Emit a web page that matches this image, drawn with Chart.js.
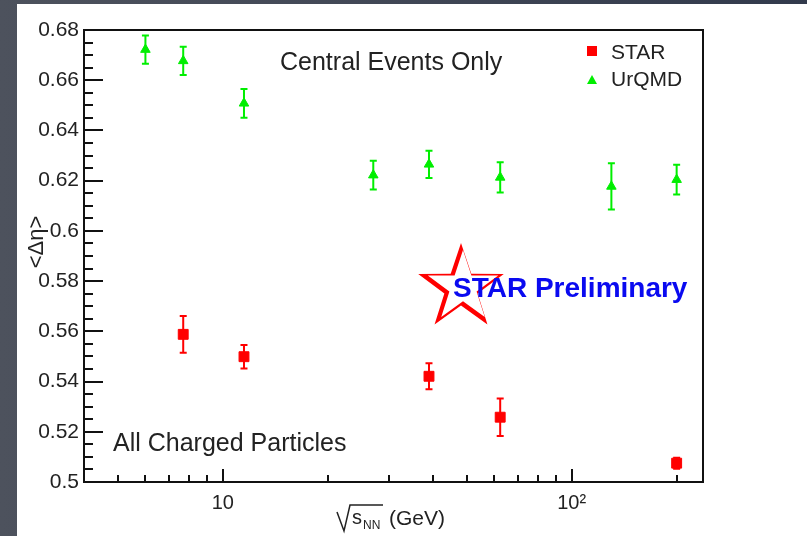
<!DOCTYPE html>
<html>
<head>
<meta charset="utf-8">
<script src="https://cdn.jsdelivr.net/npm/chart.js@4.4.1/dist/chart.umd.min.js"></script>
<style>
  html, body { margin: 0; padding: 0; }
  body {
    width: 807px; height: 536px; overflow: hidden; position: relative;
    background: linear-gradient(90deg, #4d525d 0%, #434957 40%, #323a4c 100%);
  }
  #panel { position: absolute; left: 17px; top: 4px; width: 790px; height: 532px; background: #fff; }
  #wrap { position: absolute; left: 0; top: 0; width: 807px; height: 536px; }
</style>
</head>
<body>
<div id="panel"></div>
<div id="wrap"><canvas id="bf-chart" width="807" height="536"></canvas></div>
<script>
// balance function width vs collision energy, central events
const starEnergies = [7.7, 11.5, 39, 62.4, 200];
const starWidths   = [0.5588, 0.5499, 0.5421, 0.5258, 0.5075];
const starErrors   = [0.0073, 0.0047, 0.0052, 0.0075, 0.0022];

const urqmdEnergies = [6, 7.7, 11.5, 27, 39, 62.4, 130, 200];
const urqmdWidths   = [0.6722, 0.6677, 0.6508, 0.6222, 0.6265, 0.6213, 0.6177, 0.6204];
const urqmdErrors   = [0.0056, 0.0056, 0.0057, 0.0057, 0.0054, 0.0060, 0.0092, 0.0059];

const xTicks = [5, 6, 7, 8, 9, 10, 20, 30, 40, 50, 60, 70, 80, 90, 100, 200];
const xTickLabels = { 10: '10', 100: '10\u00B2' };
const yMajorTicks = [0.5, 0.52, 0.54, 0.56, 0.58, 0.6, 0.62, 0.64, 0.66, 0.68];
const yMinorStep = 0.005;

const RED = '#ff0000';
const GREEN = '#00ee00';
const INK = '#222';
const FONT = '"Liberation Sans", Arial, Helvetica, sans-serif';

const isMajorY = v => yMajorTicks.some(t => Math.abs(t - v) < 1e-6);

function toPoints(xs, ys) {
    return xs.map((x, i) => ({ x: x, y: ys[i] }));
}

// vertical error bars with small caps, drawn under the markers
const errorBars = {
    id: 'errorBars',
    beforeDatasetsDraw(chart) {
        const { ctx } = chart;
        const xs = chart.scales.x, ys = chart.scales.y;
        chart.data.datasets.forEach(ds => {
            ctx.save();
            ctx.strokeStyle = ds.borderColor;
            ctx.lineWidth = 2;
            ds.data.forEach((p, i) => {
                const px = xs.getPixelForValue(p.x);
                const yHi = ys.getPixelForValue(p.y + ds.errors[i]);
                const yLo = ys.getPixelForValue(p.y - ds.errors[i]);
                ctx.beginPath();
                ctx.moveTo(px, yHi); ctx.lineTo(px, yLo);
                ctx.moveTo(px - 3.5, yHi); ctx.lineTo(px + 3.5, yHi);
                ctx.moveTo(px - 3.5, yLo); ctx.lineTo(px + 3.5, yLo);
                ctx.stroke();
            });
            ctx.restore();
        });
    }
};

function starPath(ctx, cx, cy, rOut, rIn) {
    ctx.beginPath();
    for (let k = 0; k < 10; k++) {
        const r = k % 2 === 0 ? rOut : rIn;
        const a = -Math.PI / 2 + k * Math.PI / 5;
        const px = cx + r * Math.cos(a), py = cy + r * Math.sin(a);
        if (k === 0) ctx.moveTo(px, py); else ctx.lineTo(px, py);
    }
    ctx.closePath();
}

// frame, inward ROOT-style ticks, legend and annotations
const decorations = {
    id: 'decorations',
    afterDraw(chart) {
        const { ctx, chartArea: { left, right, top, bottom } } = chart;
        const xs = chart.scales.x, ys = chart.scales.y;
        ctx.save();
        ctx.strokeStyle = '#111';
        ctx.lineWidth = 2;
        ctx.beginPath();
        ys.ticks.forEach(t => {
            const py = Math.round(ys.getPixelForValue(t.value));
            const len = isMajorY(t.value) ? 19 : 9;
            ctx.moveTo(left, py); ctx.lineTo(left + len, py);
        });
        xs.ticks.forEach(t => {
            const px = Math.round(xs.getPixelForValue(t.value));
            const len = xTickLabels[t.value] ? 13 : 7;
            ctx.moveTo(px, bottom); ctx.lineTo(px, bottom - len);
        });
        ctx.stroke();
        ctx.strokeRect(left, top, right - left, bottom - top);

        // legend
        ctx.fillStyle = RED;
        ctx.fillRect(587, 46, 10, 10);
        ctx.fillStyle = GREEN;
        ctx.beginPath();
        ctx.moveTo(592, 75); ctx.lineTo(597, 84); ctx.lineTo(587, 84); ctx.closePath();
        ctx.fill();
        ctx.fillStyle = INK;
        ctx.font = '21px ' + FONT;
        ctx.textAlign = 'left';
        ctx.textBaseline = 'alphabetic';
        ctx.fillText(chart.data.datasets[0].label, 611, 59);
        ctx.fillText(chart.data.datasets[1].label, 611, 86);

        ctx.font = '25px ' + FONT;
        ctx.fillText('Central Events Only', 280, 70);
        ctx.fillText('All Charged Particles', 113, 451);

        // x axis title: sqrt(s_NN) (GeV)
        ctx.strokeStyle = INK;
        ctx.lineWidth = 1.5;
        ctx.beginPath();
        ctx.moveTo(337, 512); ctx.lineTo(344, 531); ctx.lineTo(350, 505); ctx.lineTo(383, 505);
        ctx.stroke();
        ctx.font = '20px ' + FONT;
        ctx.fillText('s', 352, 524);
        ctx.font = '12px ' + FONT;
        ctx.fillText('NN', 363, 529);
        ctx.font = '21px ' + FONT;
        ctx.fillText('(GeV)', 389, 525);

        // y axis title
        ctx.save();
        ctx.translate(37, 242);
        ctx.rotate(-Math.PI / 2);
        ctx.textAlign = 'center';
        ctx.textBaseline = 'middle';
        ctx.font = '22px ' + FONT;
        ctx.fillText('<\u0394\u03B7>', 0, 0);
        ctx.restore();

        // STAR Preliminary stamp
        starPath(ctx, 461, 288, 45, 17.5);
        ctx.fillStyle = RED;
        ctx.fill();
        starPath(ctx, 463, 287, 37, 14.3);
        ctx.fillStyle = '#fff';
        ctx.fill();
        ctx.fillStyle = '#0a0af0';
        ctx.font = 'bold 28px ' + FONT;
        ctx.fillText('STAR Preliminary', 453, 297);
        ctx.restore();
    }
};

new Chart(document.getElementById('bf-chart'), {
    type: 'scatter',
    data: {
        datasets: [{
            label: 'STAR',
            data: toPoints(starEnergies, starWidths),
            errors: starErrors,
            pointStyle: 'rect',
            pointRadius: 7,
            borderWidth: 1,
            backgroundColor: RED,
            borderColor: RED
        }, {
            label: 'UrQMD',
            data: toPoints(urqmdEnergies, urqmdWidths),
            errors: urqmdErrors,
            pointStyle: 'triangle',
            pointRadius: 5.5,
            borderWidth: 1,
            backgroundColor: GREEN,
            borderColor: GREEN
        }]
    },
    options: {
        responsive: false,
        devicePixelRatio: 1,
        animation: false,
        layout: { padding: { left: 0, top: 30, right: 104, bottom: 0 } },
        plugins: { legend: { display: false }, tooltip: { enabled: false } },
        scales: {
            x: {
                type: 'logarithmic',
                min: 4,
                max: 238,
                grid: { display: false, drawTicks: false },
                border: { display: false },
                afterBuildTicks: scale => { scale.ticks = xTicks.map(v => ({ value: v })); },
                afterFit: scale => { scale.height = 54; },
                ticks: {
                    autoSkip: false,
                    maxRotation: 0,
                    minRotation: 0,
                    padding: 9,
                    color: INK,
                    font: { family: FONT, size: 20 },
                    callback: v => xTickLabels[v] || ''
                }
            },
            y: {
                min: 0.5,
                max: 0.68,
                grid: { display: false, drawTicks: false },
                border: { display: false },
                afterBuildTicks: scale => {
                    const ticks = [];
                    const n = Math.round((scale.max - scale.min) / yMinorStep);
                    for (let i = 0; i <= n; i++) {
                        ticks.push({ value: Math.round((scale.min + i * yMinorStep) * 1000) / 1000 });
                    }
                    scale.ticks = ticks;
                },
                afterFit: scale => { scale.width = 84; },
                ticks: {
                    autoSkip: false,
                    padding: 5,
                    color: INK,
                    font: { family: FONT, size: 21 },
                    callback: v => isMajorY(v) ? String(+v.toFixed(2)) : ''
                }
            }
        }
    },
    plugins: [errorBars, decorations]
});
</script>
</body>
</html>
